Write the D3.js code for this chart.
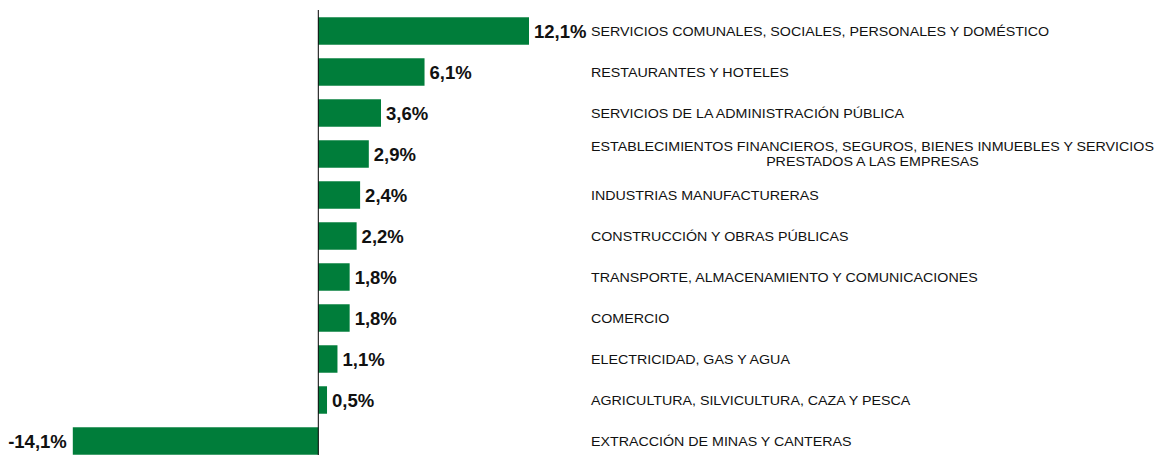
<!DOCTYPE html>
<html><head><meta charset="utf-8">
<script src="https://cdn.jsdelivr.net/npm/d3@7"></script>
<style>body{margin:0;background:#fff}svg{display:block}</style>
</head><body>
<svg id="c" width="1158" height="455"></svg>
<script>
const categories = [
  ["SERVICIOS COMUNALES, SOCIALES, PERSONALES Y DOMÉSTICO"],
  ["RESTAURANTES Y HOTELES"],
  ["SERVICIOS DE LA ADMINISTRACIÓN PÚBLICA"],
  ["ESTABLECIMIENTOS FINANCIEROS, SEGUROS, BIENES INMUEBLES Y SERVICIOS", "PRESTADOS A LAS EMPRESAS"],
  ["INDUSTRIAS MANUFACTURERAS"],
  ["CONSTRUCCIÓN Y OBRAS PÚBLICAS"],
  ["TRANSPORTE, ALMACENAMIENTO Y COMUNICACIONES"],
  ["COMERCIO"],
  ["ELECTRICIDAD, GAS Y AGUA"],
  ["AGRICULTURA, SILVICULTURA, CAZA Y PESCA"],
  ["EXTRACCIÓN DE MINAS Y CANTERAS"]
];
const values = [12.1, 6.1, 3.6, 2.9, 2.4, 2.2, 1.8, 1.8, 1.1, 0.5, -14.1];
const valueLabels = ["12,1%", "6,1%", "3,6%", "2,9%", "2,4%", "2,2%", "1,8%", "1,8%", "1,1%", "0,5%", "-14,1%"];

const svg = d3.select("#c");
const x = d3.scaleLinear().domain([-14.1, 12.1]).range([72.8, 529]);
const y = d3.scaleBand().domain(d3.range(values.length)).range([10.5, 461.5]).paddingInner(0.33).paddingOuter(0.165);
const green = "#007d3a";

svg.selectAll("rect.bar").data(values).join("rect")
  .attr("class", "bar")
  .attr("x", d => x(Math.min(0, d)))
  .attr("width", d => Math.abs(x(d) - x(0)))
  .attr("y", (d, i) => y(i))
  .attr("height", y.bandwidth())
  .attr("fill", green);

svg.append("line")
  .attr("x1", x(0)).attr("x2", x(0))
  .attr("y1", 10).attr("y2", 455)
  .attr("stroke", "#000").attr("stroke-width", 1);

svg.selectAll("text.val").data(values).join("text")
  .attr("class", "val")
  .attr("x", d => d >= 0 ? x(d) + 5 : x(d) - 6)
  .attr("y", (d, i) => y(i) + y.bandwidth() / 2)
  .attr("dy", "0.36em")
  .attr("text-anchor", d => d >= 0 ? "start" : "end")
  .attr("font-family", "Liberation Sans, Arial, sans-serif")
  .attr("font-weight", "bold")
  .attr("font-size", 18.5)
  .attr("fill", "#111")
  .text((d, i) => valueLabels[i]);

const labelX = 591;
const lh = 15;
const stretch = 1.097;
categories.forEach((lines, i) => {
  const cy = y(i) + y.bandwidth() / 2;
  const g = svg.append("g").attr("transform", `translate(${labelX},0) scale(${stretch},1)`);
  const n = lines.length;
  const t0 = g.append("text")
    .attr("x", 0)
    .attr("y", cy - (n - 1) * lh / 2)
    .attr("dy", "0.36em")
    .attr("font-family", "Liberation Sans, Arial, sans-serif")
    .attr("font-size", 13)
    .attr("fill", "#111")
    .text(lines[0]);
  if (n > 1) {
    const w = t0.node().getComputedTextLength();
    for (let k = 1; k < n; k++) {
      g.append("text")
        .attr("x", w / 2)
        .attr("y", cy - (n - 1) * lh / 2 + k * lh)
        .attr("dy", "0.36em")
        .attr("text-anchor", "middle")
        .attr("font-family", "Liberation Sans, Arial, sans-serif")
        .attr("font-size", 13)
        .attr("fill", "#111")
        .text(lines[k]);
    }
  }
});
</script>
</body></html>
